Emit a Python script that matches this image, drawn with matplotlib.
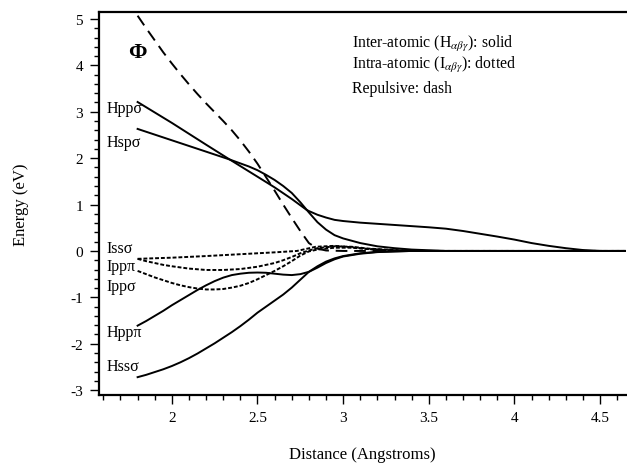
import matplotlib
matplotlib.use("Agg")
import matplotlib.pyplot as plt
from matplotlib.ticker import MultipleLocator

plt.rcParams['font.family'] = ['Liberation Serif', 'DejaVu Serif']
plt.rcParams['mathtext.fontset'] = 'stix'

# Repulsive (dash)
phi_x = [1.8, 1.85, 1.9, 1.95, 2.0, 2.05, 2.1, 2.15, 2.2, 2.25, 2.3, 2.35, 2.4, 2.45, 2.5, 2.55,
         2.6, 2.65, 2.7, 2.75, 2.8, 2.85, 2.9, 3.0, 4.65]
phi_y = [5.07, 4.80, 4.54, 4.28, 4.04, 3.81, 3.59, 3.38, 3.18, 2.99, 2.80, 2.60, 2.38, 2.14, 1.88, 1.59,
         1.30, 1.00, 0.71, 0.43, 0.17, 0.05, 0.01, 0.0, 0.0]

# Inter-atomic (solid)
hpps_x = [1.8, 2.0, 2.2, 2.338, 2.5, 2.6, 2.7, 2.785, 2.8, 2.85, 2.9, 2.95, 3.0, 3.1, 3.3, 3.5, 3.6, 3.7,
          3.8, 3.9, 4.0, 4.1, 4.2, 4.3, 4.4, 4.5, 4.65]
hpps_y = [3.21, 2.76, 2.29, 1.97, 1.60, 1.37, 1.12, 0.89, 0.86, 0.78, 0.72, 0.67, 0.645, 0.61, 0.56, 0.51,
          0.48, 0.43, 0.37, 0.31, 0.245, 0.17, 0.11, 0.06, 0.02, 0.0, 0.0]

hsps_x = [1.8, 2.0, 2.2, 2.338, 2.45, 2.5, 2.55, 2.6, 2.65, 2.7, 2.75, 2.8, 2.85, 2.9, 2.95, 3.0, 3.1,
          3.2, 3.3, 3.4, 3.6, 4.65]
hsps_y = [2.63, 2.385, 2.14, 1.97, 1.82, 1.74, 1.64, 1.53, 1.40, 1.25, 1.05, 0.83, 0.62, 0.46, 0.34, 0.27,
          0.17, 0.10, 0.06, 0.03, 0.0, 0.0]

hppp_x = [1.8, 1.85, 1.9, 1.95, 2.0, 2.05, 2.1, 2.15, 2.2, 2.25, 2.3, 2.35, 2.4, 2.45, 2.5, 2.55, 2.6,
          2.65, 2.7, 2.75, 2.8, 2.85, 2.9, 2.95, 3.0, 3.1, 3.2, 3.3, 3.4, 4.65]
hppp_y = [-1.61, -1.51, -1.40, -1.29, -1.17, -1.06, -0.95, -0.84, -0.74, -0.65, -0.575, -0.52, -0.49,
          -0.47, -0.465, -0.47, -0.49, -0.51, -0.52, -0.50, -0.45, -0.36, -0.26, -0.18, -0.12, -0.06,
          -0.025, -0.01, 0.0, 0.0]

hsss_x = [1.8, 1.85, 1.9, 1.95, 2.0, 2.05, 2.1, 2.15, 2.2, 2.25, 2.3, 2.35, 2.4, 2.45, 2.5, 2.55, 2.6,
          2.65, 2.7, 2.75, 2.8, 2.85, 2.9, 2.95, 3.0, 3.1, 3.2, 3.3, 3.4, 4.65]
hsss_y = [-2.72, -2.67, -2.61, -2.55, -2.48, -2.40, -2.31, -2.21, -2.10, -1.99, -1.87, -1.75, -1.62,
          -1.48, -1.33, -1.20, -1.07, -0.94, -0.79, -0.62, -0.45, -0.33, -0.23, -0.16, -0.11, -0.05,
          -0.02, -0.01, 0.0, 0.0]

# Intra-atomic (dotted)
isss_x = [1.8, 2.0, 2.2, 2.4, 2.6, 2.73, 2.84, 2.95, 3.05, 3.15, 3.25, 3.4, 4.65]
isss_y = [-0.17, -0.145, -0.11, -0.07, -0.03, 0.0, 0.09, 0.11, 0.08, 0.04, 0.02, 0.0, 0.0]

ippp_x = [1.8, 1.85, 1.9, 1.95, 2.0, 2.1, 2.2, 2.3, 2.4, 2.5, 2.55, 2.6, 2.65, 2.7, 2.75, 2.8, 2.85,
          2.95, 3.05, 3.15, 3.3, 3.45, 4.65]
ippp_y = [-0.17, -0.22, -0.26, -0.30, -0.33, -0.38, -0.41, -0.41, -0.39, -0.34, -0.30, -0.26, -0.20,
          -0.13, -0.05, 0.01, 0.06, 0.10, 0.09, 0.05, 0.02, 0.0, 0.0]

ipps_x = [1.8, 1.85, 1.9, 1.95, 2.0, 2.05, 2.1, 2.15, 2.2, 2.25, 2.3, 2.35, 2.4, 2.45, 2.5, 2.55, 2.6,
          2.65, 2.7, 2.75, 2.8, 2.85, 2.95, 3.05, 3.15, 3.3, 3.45, 4.65]
ipps_y = [-0.43, -0.50, -0.57, -0.63, -0.69, -0.74, -0.78, -0.81, -0.83, -0.83, -0.82, -0.79, -0.75,
          -0.69, -0.61, -0.52, -0.43, -0.33, -0.22, -0.10, -0.01, 0.03, 0.07, 0.07, 0.04, 0.01, 0.0, 0.0]

x_ticks = [2, 2.5, 3, 3.5, 4, 4.5]
x_ticklabels = ["2", "2.5", "3", "3.5", "4", "4.5"]
y_ticks = [-3, -2, -1, 0, 1, 2, 3, 4, 5]
y_ticklabels = ["-3", "-2", "-1", "0", "1", "2", "3", "4", "5"]

fig = plt.figure(figsize=(6.27, 4.64), dpi=100)
ax = fig.add_axes([0.158, 0.147, 0.84, 0.824])

lw = 1.4
ax.plot(phi_x, phi_y, color='black', lw=lw, dashes=(6, 3.5))
for xx, yy in [(hpps_x, hpps_y), (hsps_x, hsps_y), (hppp_x, hppp_y), (hsss_x, hsss_y)]:
    ax.plot(xx, yy, color='black', lw=lw)
for xx, yy in [(isss_x, isss_y), (ippp_x, ippp_y), (ipps_x, ipps_y)]:
    ax.plot(xx, yy, color='black', lw=lw, dashes=(2, 1))

ax.set_xlim(1.575, 4.65)
ax.set_ylim(-3.1, 5.14)
ax.set_xticks(x_ticks)
ax.set_xticklabels(x_ticklabels)
ax.set_yticks(y_ticks)
ax.set_yticklabels(y_ticklabels)
ax.xaxis.set_minor_locator(MultipleLocator(0.1))
ax.yaxis.set_minor_locator(MultipleLocator(0.2))
ax.tick_params(which='major', direction='out', length=6.5, width=1.0, labelsize=11, pad=5)
ax.tick_params(which='minor', direction='out', length=3.5, width=1.0)
ax.tick_params(top=False, right=False, which='both')
ax.spines['right'].set_visible(False)
for s in ['left', 'bottom', 'top']:
    ax.spines[s].set_linewidth(1.6)

ax.set_xlabel("Distance (Angstroms)", fontsize=12, labelpad=16)
ax.set_ylabel("Energy (eV)", fontsize=12, labelpad=30)

lab_fs = 11.5
ax.text(1.62, 3.09, "Hpp\u03c3", fontsize=lab_fs, va='center', ha='left')
ax.text(1.62, 2.35, "Hsp\u03c3", fontsize=lab_fs, va='center', ha='left')
ax.text(1.62, 0.07, "Iss\u03c3", fontsize=lab_fs, va='center', ha='left')
ax.text(1.62, -0.33, "Ipp\u03c0", fontsize=lab_fs, va='center', ha='left')
ax.text(1.62, -0.76, "Ipp\u03c3", fontsize=lab_fs, va='center', ha='left')
ax.text(1.62, -1.75, "Hpp\u03c0", fontsize=lab_fs, va='center', ha='left')
ax.text(1.62, -2.48, "Hss\u03c3", fontsize=lab_fs, va='center', ha='left')
ax.text(1.745, 4.29, "\u03a6", fontsize=16, va='center', ha='left', fontweight='bold')

leg_fs = 11.3
ax.text(3.054, 4.48, r"Inter-atomic (H$_{\alpha\beta\gamma}$): solid", fontsize=leg_fs, va='center', ha='left')
ax.text(3.054, 4.03, r"Intra-atomic (I$_{\alpha\beta\gamma}$): dotted", fontsize=leg_fs, va='center', ha='left')
ax.text(3.054, 3.52, "Repulsive: dash", fontsize=leg_fs, va='center', ha='left')

fig.savefig("out.png", dpi=100)
